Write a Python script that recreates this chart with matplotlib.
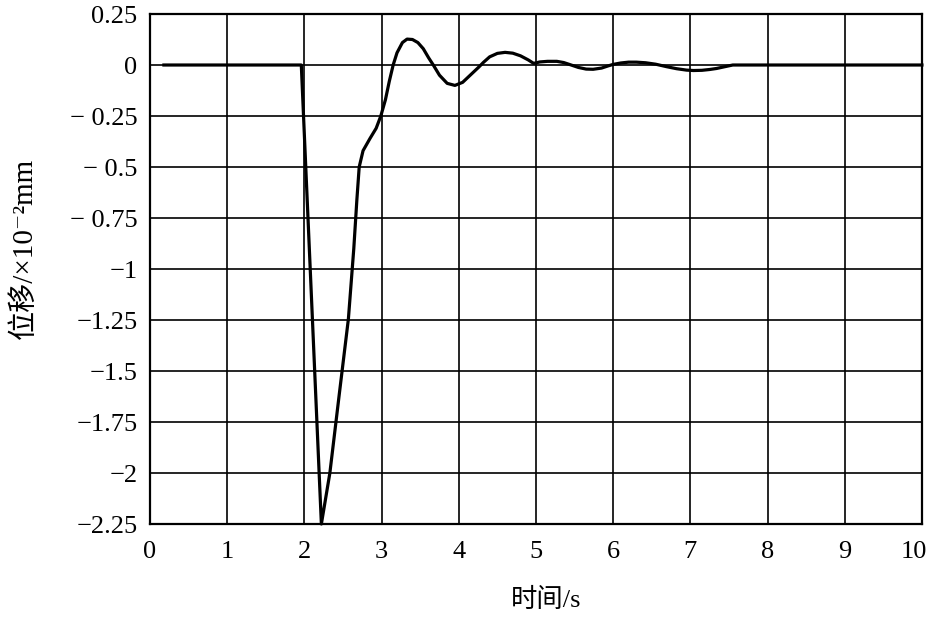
import numpy as np
import matplotlib
matplotlib.use("Agg")
import matplotlib.pyplot as plt
import matplotlib.transforms as mtransforms

plt.rcParams['font.family'] = ['Liberation Serif', 'DejaVu Serif', 'Noto Sans CJK SC']

# displacement response
t = [0.18, 1.96, 2.22, 2.33, 2.45, 2.57, 2.64, 2.68, 2.71, 2.76, 2.85, 2.93,
     2.99, 3.05, 3.10, 3.15, 3.20, 3.27, 3.33, 3.40, 3.47, 3.54, 3.61, 3.67,
     3.75, 3.85, 3.95, 4.05, 4.12, 4.19, 4.26, 4.32, 4.40, 4.50, 4.60, 4.70,
     4.80, 4.90, 4.97, 5.05, 5.15, 5.27, 5.36, 5.44, 5.55, 5.65, 5.74, 5.85,
     5.93, 6.00, 6.10, 6.20, 6.30, 6.42, 6.55, 6.69, 6.82, 6.95, 7.04, 7.15,
     7.25, 7.34, 7.45, 7.55, 10.0]
disp = [0.0, 0.0, -2.25, -2.0, -1.62, -1.245, -0.9, -0.66, -0.50, -0.42, -0.36, -0.31,
        -0.25, -0.17, -0.08, 0.0, 0.06, 0.11, 0.127, 0.125, 0.11, 0.08, 0.035, 0.0,
        -0.05, -0.09, -0.10, -0.085, -0.06, -0.035, -0.01, 0.013, 0.04, 0.057, 0.062, 0.058,
        0.045, 0.025, 0.008, 0.015, 0.018, 0.018, 0.012, 0.002, -0.012, -0.02, -0.021, -0.015,
        -0.005, 0.003, 0.01, 0.014, 0.014, 0.011, 0.004, -0.008, -0.018, -0.025, -0.027, -0.026,
        -0.022, -0.017, -0.008, 0.0, 0.0]

xticks = np.arange(0, 11, 1)
yticks = [0.25, 0, -0.25, -0.5, -0.75, -1, -1.25, -1.5, -1.75, -2, -2.25]
ytick_labels = ['0.25', '0', '\u2212 0.25', '\u2212 0.5', '\u2212 0.75', '\u22121',
                '\u22121.25', '\u22121.5', '\u22121.75', '\u22122', '\u22122.25']

fig = plt.figure(figsize=(9.3, 6.17), dpi=100)
ax = fig.add_axes([0.1613, 0.1507, 0.83, 0.8266])

ax.plot(t, disp, color='black', lw=2.3, clip_on=False, zorder=3)

ax.set_xlim(0, 10)
ax.set_ylim(-2.25, 0.25)
ax.set_xticks(xticks)
ax.set_xticklabels([str(v) for v in xticks])
ax.set_yticks(yticks)
ax.set_yticklabels(ytick_labels)
ax.tick_params(length=0, labelsize=19)
ax.tick_params(axis='y', pad=9)
ax.tick_params(axis='x', pad=12)
ax.grid(True, color='black', lw=1.2)
for s in ax.spines.values():
    s.set_linewidth(1.6)

# keep the "10" inside the figure edge, as in the source
last = ax.get_xticklabels()[-1]
last.set_transform(last.get_transform() +
                   mtransforms.ScaledTranslation(-0.08, 0, fig.dpi_scale_trans))

ax.set_xlabel('时间/s', fontsize=19)
ax.xaxis.set_label_coords(0.513, -0.125)
ax.set_ylabel('位移/×10\u207b\u00b2mm', fontsize=21)
ax.yaxis.set_label_coords(-0.146, 0.54)

fig.savefig('out.png', dpi=100)
